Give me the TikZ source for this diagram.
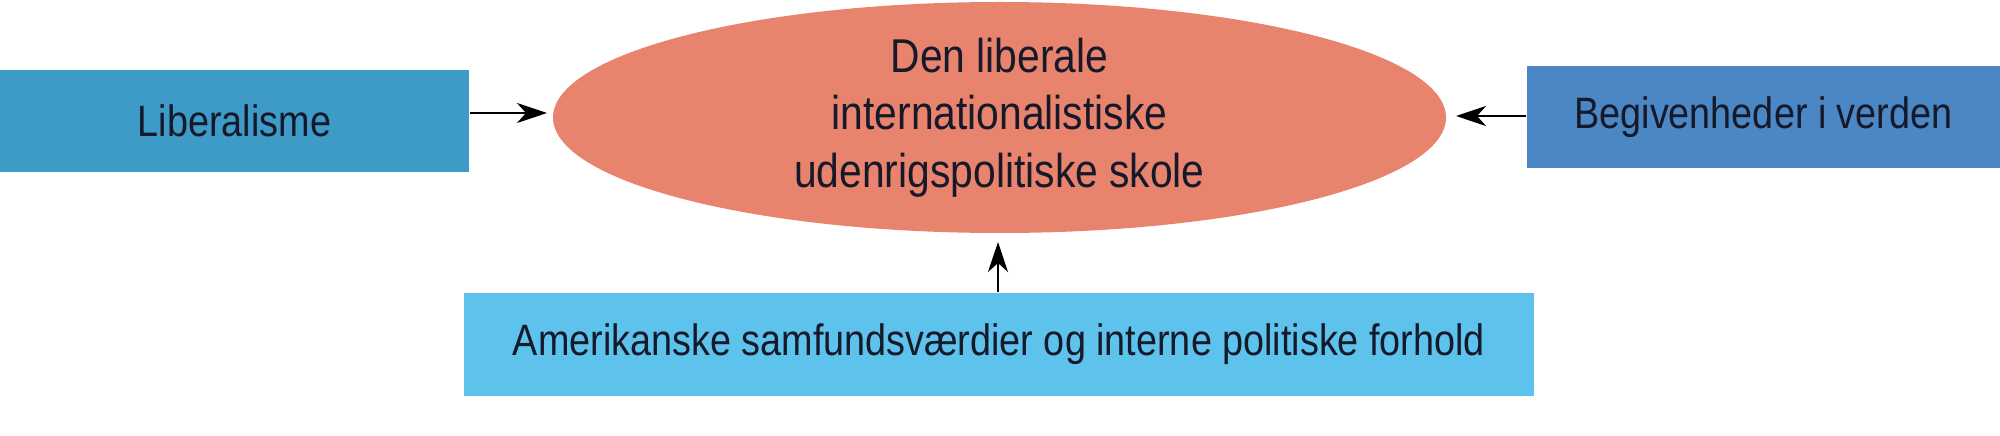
\documentclass[tikz,border=0pt]{standalone}
\usepackage{fontspec}
\setmainfont{Liberation Sans}[FakeStretch=0.86]
\usetikzlibrary{shapes.geometric,arrows.meta}

\definecolor{leftblue}{HTML}{3E9AC6}
\definecolor{rightblue}{HTML}{4A87C4}
\definecolor{lightblue}{HTML}{5DC3EC}
\definecolor{salmon}{HTML}{E8846D}
\definecolor{inkblue}{HTML}{16192A}

\begin{document}
\begin{tikzpicture}[
    box/.style={rectangle, inner sep=0pt, text=inkblue,
        font={\fontsize{12.5}{15.6}\selectfont}},
    feed/.style={-{Stealth[length=3mm, width=2mm, inset=0.9mm]}, line width=0.8pt, black}
]

    % Frame of the picture
    \def\W{20}
    \def\H{4.36}
    \useasboundingbox (0, 0) rectangle (\W, \H);

    % Centre ellipse
    \node[ellipse, fill=salmon, minimum width=8.93cm, minimum height=2.31cm,
        inner sep=0pt, align=center, text=inkblue,
        font={\fontsize{13.5}{16.4}\selectfont}] (school) at (9.995, 3.185)
        {Den liberale\\internationalistiske\\udenrigspolitiske skole};

    % Boxes round it
    \node[box, fill=leftblue, minimum width=4.69cm, minimum height=1.02cm] (liberal) at (2.345, 3.15) {Liberalisme};
    \node[box, fill=rightblue, minimum width=4.73cm, minimum height=1.02cm] (events) at (17.635, 3.19) {Begivenheder i verden};
    \node[box, fill=lightblue, minimum width=10.70cm, minimum height=1.03cm] (values) at (9.99, 0.915) {Amerikanske samfundsværdier og interne politiske forhold};

    % Arrow ends
    \coordinate (inL) at (5.47, 3.23);
    \coordinate (inR) at (14.56, 3.20);
    \coordinate (inB) at (9.98, 1.94);

    % Arrows
    \draw[feed] (liberal.east |- inL) -- (inL);
    \draw[feed] (events.west |- inR) -- (inR);
    \draw[feed] (values.north -| inB) -- (inB);

\end{tikzpicture}
\end{document}
